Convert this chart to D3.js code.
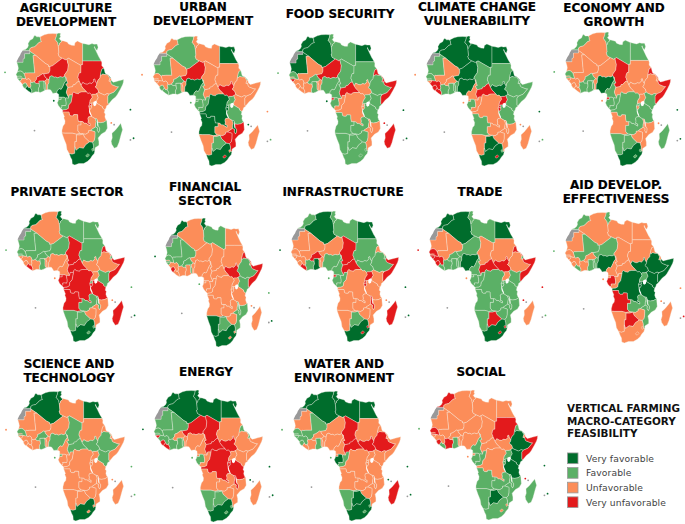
<!DOCTYPE html>
<html>
<head>
<meta charset="utf-8">
<script src="https://cdn.jsdelivr.net/npm/d3@7"></script>
<style>
  body { margin: 0; background: #fff; }
  svg { display: block; }
  .title { font: bold 12px "DejaVu Sans", sans-serif; fill: #000; stroke: #000; stroke-width: 0.2; text-anchor: middle; }
  .legend-title { font: bold 10.4px "DejaVu Sans", sans-serif; fill: #111; }
  .legend-label { font: 9.2px "DejaVu Sans", sans-serif; fill: #444; letter-spacing: 0.1px; }
  .map { filter: blur(0.3px); }
</style>
</head>
<body>
<svg id="maps"></svg>
<script>
const countries = [
  "MAR", "DZA", "TUN", "LBY", "EGY",
  "MRT", "MLI", "NER", "TCD", "SDN",
  "SSD", "ERI", "ETH", "DJI", "SOM",
  "SEN", "GMB", "GNB", "GIN", "SLE", "LBR", "CIV", "BFA", "GHA", "TGO", "BEN", "NGA",
  "CMR", "CAF", "GNQ", "GAB", "COG", "COD",
  "UGA", "KEN", "RWA", "BDI", "TZA",
  "AGO", "ZMB", "MWI", "MOZ", "ZWE", "BWA", "NAM", "ZAF", "LSO", "SWZ", "MDG",
  "CPV", "STP", "COM", "SYC", "MUS"
];

// 1 very favorable, 2 favorable, 3 unfavorable, 4 very unfavorable (same order as countries)
const agriculture = [2,3,2,3,2, 2,3,4,3,4, 4,1,3,3,2, 2,2,2,3,2,1,2,4,2,2,3,2, 1,3,2,2,2,4, 3,3,4,3,3, 3,3,2,2,3,3,3,1,2,2,2, 2,1,3,1,1];
const urban       = [3,2,3,3,1, 2,3,4,3,3, 4,2,3,3,3, 3,3,3,3,2,2,2,2,2,3,3,1, 2,3,2,2,2,1, 2,3,1,1,2, 1,3,1,4,4,2,3,1,4,3,3, 3,2,1,3,2];
const food        = [1,1,2,2,1, 1,3,4,2,2, 3,4,2,4,4, 2,3,4,3,3,3,3,2,2,3,3,2, 2,4,4,2,3,3, 2,2,3,3,2, 2,2,3,3,2,2,2,2,2,2,4, 2,1,4,1,1];
const climate     = [1,1,1,1,1, 2,3,1,2,2, 1,1,2,2,2, 2,2,3,4,4,4,2,3,2,2,2,1, 3,4,3,2,3,3, 4,2,4,4,2, 2,3,3,3,3,1,3,1,4,2,3, 3,3,3,1,2];
const economy     = [2,3,2,2,2, 3,3,3,4,3, 3,4,3,3,4, 2,3,3,3,3,3,2,2,2,2,3,1, 2,3,4,2,2,2, 3,2,2,3,2, 3,2,3,3,3,2,2,1,2,2,2, 2,3,3,1,1];
const privateSector = [1,3,1,2,2, 2,2,2,4,2, 3,4,3,2,4, 2,2,3,3,3,4,3,2,2,3,3,3, 3,4,4,4,4,4, 3,2,2,4,4, 4,2,2,3,3,2,2,1,2,2,4, 2,3,3,2,1];
const financial   = [1,3,1,2,3, 2,2,3,3,3, 4,4,2,3,4, 2,3,2,3,4,3,3,2,3,2,3,3, 3,3,3,3,3,3, 3,2,3,3,3, 3,3,2,2,3,2,1,1,3,3,3, 1,2,3,2,1];
const infrastructure = [2,1,2,2,1, 3,3,3,4,2, 2,3,2,2,4, 3,3,3,3,3,4,2,4,1,3,3,2, 2,4,4,2,2,3, 4,3,4,4,3, 3,3,4,3,3,2,3,1,4,4,4, 1,2,3,1,1];
const trade       = [1,1,2,2,1, 3,3,2,3,3, 4,4,3,2,4, 4,3,4,4,4,2,2,2,2,2,2,1, 2,4,2,2,2,2, 3,2,2,2,2, 2,2,2,2,2,4,2,1,4,4,3, 4,3,4,4,2];
const aid         = [2,3,2,3,3, 3,2,2,3,3, 1,3,1,3,1, 3,3,3,3,3,2,3,3,2,2,2,1, 3,3,3,4,3,1, 2,1,1,1,1, 4,2,2,2,3,4,3,3,3,3,3, 2,3,3,3,4];
const science     = [1,1,1,3,1, 3,3,3,2,3, 2,3,2,3,3, 2,3,3,3,3,3,3,2,2,3,3,2, 3,2,2,3,3,3, 3,2,3,3,3, 3,3,3,3,3,3,3,1,3,3,3, 3,2,3,2,2];
const energy      = [1,1,1,1,1, 2,2,4,4,3, 4,2,3,2,3, 2,2,4,2,4,4,2,3,2,2,3,3, 3,4,3,2,3,4, 3,3,4,4,4, 3,3,4,3,3,2,2,1,2,2,3, 1,2,1,1,1];
const water       = [1,1,1,1,1, 3,2,3,4,3, 4,3,4,3,3, 2,2,2,2,2,3,3,3,2,3,3,3, 3,4,3,1,2,3, 3,3,3,3,3, 3,3,3,3,3,1,2,1,2,2,4, 2,2,1,1,1];
const social      = [4,3,3,3,3, 3,3,3,3,4, 3,2,1,3,4, 4,3,3,3,4,2,4,3,2,3,3,3, 2,3,3,2,2,3, 2,1,2,2,1, 2,2,2,2,2,1,2,2,3,3,2, 2,3,4,1,1];

const panelTitles = [
  ["AGRICULTURE", "DEVELOPMENT"], ["URBAN", "DEVELOPMENT"], ["FOOD SECURITY"],
  ["CLIMATE CHANGE", "VULNERABILITY"], ["ECONOMY AND", "GROWTH"],
  ["PRIVATE SECTOR"], ["FINANCIAL", "SECTOR"], ["INFRASTRUCTURE"], ["TRADE"],
  ["AID DEVELOP.", "EFFECTIVENESS"],
  ["SCIENCE AND", "TECHNOLOGY"], ["ENERGY"], ["WATER AND", "ENVIRONMENT"], ["SOCIAL"]
];
const panelValues = [
  agriculture, urban, food, climate, economy,
  privateSector, financial, infrastructure, trade, aid,
  science, energy, water, social
];

const legendTitle = ["VERTICAL FARMING", "MACRO-CATEGORY", "FEASIBILITY"];
const legendLabels = ["Very favorable", "Favorable", "Unfavorable", "Very unfavorable"];

// lon/lat outlines, rough but with shared borders
const shapes = {
  ESH: [[-8.7,27.7],[-8.7,26],[-12,26],[-12,23.5],[-13,23],[-13,21.3],[-17,21.3],[-17,21.9],[-16,23.7],[-14.9,25.1],[-14.4,26.2],[-13.2,27.7]],
  MAR: [[-8.7,27.7],[-13.2,27.7],[-12.9,28],[-11.5,28.3],[-10.2,29.3],[-9.6,30.4],[-9.8,31.5],[-8.6,33.3],[-6.8,34.1],[-5.9,35.8],[-5.3,35.9],[-4.3,35.2],[-2.9,35.2],[-2.2,35.1],[-1.8,34.5],[-1.7,33.3],[-1.2,32.6],[-2.9,32.1],[-3.7,31.3],[-5.6,29.8],[-7.6,29.4],[-8.7,28.7]],
  DZA: [[-8.7,27.7],[-8.7,28.7],[-7.6,29.4],[-5.6,29.8],[-3.7,31.3],[-2.9,32.1],[-1.2,32.6],[-1.7,33.3],[-1.8,34.5],[-2.2,35.1],[-1,35.7],[0.5,36.3],[3,36.9],[6,37],[8.6,36.9],[8.3,35.5],[7.5,33.8],[9.05,32.1],[9.5,30.2],[9.9,26.5],[9.4,26.2],[10,24.5],[12,23.5],[5.8,19.4],[4.2,19],[3.2,19],[3.2,19.8],[1.2,20.7],[-4.8,25],[-8.7,27.3]],
  TUN: [[8.6,36.9],[9.9,37.3],[11,37],[10.6,36],[11,35.2],[10.1,34.3],[11.1,33.2],[11.5,33.1],[11.5,32.4],[10.3,31.7],[10.2,30.8],[9.5,30.2],[9.05,32.1],[7.5,33.8],[8.3,35.5]],
  LBY: [[11.5,33.1],[13,32.9],[15.3,32.3],[16,31.3],[18,30.6],[19.8,30.5],[20.1,32],[21.7,32.9],[23.2,32.3],[25,31.6],[25,22],[25,20],[24,20],[24,19.5],[16,23.5],[15,23],[14.2,22.6],[12,23.5],[10,24.5],[9.4,26.2],[9.9,26.5],[9.5,30.2],[10.2,30.8],[10.3,31.7],[11.5,32.4]],
  EGY: [[25,31.6],[27,31.3],[29,30.9],[31,31.5],[32.3,31.2],[34.2,31.3],[34.9,29.5],[34.2,27.8],[33.2,28.5],[32.6,29.9],[32.4,29.6],[33.8,27],[35.5,24],[35.6,23.9],[36.9,22],[31.4,22],[25,22]],
  MRT: [[-17,21.3],[-13,21.3],[-13,23],[-12,23.5],[-12,26],[-8.7,26],[-8.7,27.3],[-4.8,25],[-6.6,25],[-5.5,15.5],[-9.3,15.5],[-10.7,15.4],[-11.7,15.5],[-12.2,14.8],[-13.5,16.2],[-14.9,16.6],[-16.5,16.1],[-16,18],[-16.3,19.4]],
  MLI: [[-4.8,25],[1.2,20.7],[3.2,19.8],[3.2,19],[4.2,19],[4.2,16.9],[3.5,15.4],[0.2,14.9],[-0.5,15.1],[-2,14.2],[-3,13.6],[-4.3,13.2],[-4.4,12],[-5.4,11],[-5.5,10.4],[-6.2,10.5],[-7,10.2],[-8,10.3],[-8.3,11.5],[-9.3,12.4],[-10.7,11.9],[-11.4,12.4],[-12.2,14.8],[-11.7,15.5],[-10.7,15.4],[-9.3,15.5],[-5.5,15.5],[-6.6,25]],
  NER: [[3.5,15.4],[4.2,16.9],[4.2,19],[5.8,19.4],[12,23.5],[14.2,22.6],[15,23],[15.5,21],[15.9,19.9],[15.5,16.9],[13.5,14.5],[13.6,13.7],[12.3,13.1],[10.7,13.4],[9,12.8],[7.8,13.3],[6.8,13.1],[5.4,13.9],[4.1,13.5],[3.6,11.7],[2.4,12.2],[1,13.3],[0.3,14.4],[0.2,14.9]],
  TCD: [[15,23],[16,23.5],[24,19.5],[23.9,15.6],[22.9,15.5],[22.3,14.3],[22,12.9],[22.4,12.3],[22.9,10.9],[21.7,10.6],[20,9],[19,9],[18.6,8],[15.5,7.5],[14.2,9.5],[15.5,9.9],[14.9,11],[14.5,12.9],[14.1,13],[13.6,13.7],[13.5,14.5],[15.5,16.9],[15.9,19.9],[15.5,21]],
  SDN: [[25,22],[31.4,22],[36.9,22],[37.3,21],[37.2,19.5],[38.6,18],[37.4,17.7],[36.9,16.5],[36.4,14.4],[36.1,12.7],[35,11.7],[34.3,10.6],[34.1,9.5],[33.1,10.8],[32.7,12.2],[32,11.9],[32.3,11],[30.8,9.7],[29.6,10],[28,9.3],[26.7,9.5],[25.1,10.3],[24,8.7],[22.9,10.9],[22.4,12.3],[22,12.9],[22.3,14.3],[22.9,15.5],[23.9,15.6],[24,19.5],[24,20],[25,20]],
  SSD: [[34.1,9.5],[33.1,10.8],[32.7,12.2],[32,11.9],[32.3,11],[30.8,9.7],[29.6,10],[28,9.3],[26.7,9.5],[25.1,10.3],[24,8.7],[25.2,7.1],[26.4,6.2],[27.4,5.1],[28.4,4.3],[29.5,4.5],[30.8,3.5],[31.3,3.8],[33,3.8],[34,4.2],[35.3,5],[34.7,6.6],[33,7.9],[33.7,8.4]],
  ERI: [[38.6,18],[39.3,15.6],[39.7,15.1],[41.2,14.5],[43.1,12.7],[42.4,12.5],[41,14.5],[40,14.5],[39,14.6],[37.9,14.9],[37,14.3],[36.4,14.4],[36.9,16.5],[37.4,17.7]],
  ETH: [[36.4,14.4],[37,14.3],[37.9,14.9],[39,14.6],[40,14.5],[41,14.5],[42.4,12.5],[41.8,11],[42.9,11],[43.3,9.5],[44,9],[46.9,8],[48,8],[45,5],[41.9,3.9],[40.7,4.2],[39.9,3.9],[39,3.4],[36,4.5],[35.3,5],[34.7,6.6],[33,7.9],[33.7,8.4],[34.1,9.5],[34.3,10.6],[35,11.7],[36.1,12.7]],
  DJI: [[43.1,12.7],[43.3,11.5],[42.9,11],[41.8,11],[42.4,12.5]],
  SOM: [[42.9,11],[43.3,11.5],[44.5,10.4],[46,10.7],[48,11.2],[50,11.6],[51.2,11.9],[51,10.4],[50.5,9],[49,6.5],[47,3.5],[46,2.3],[44,1],[42,-1.1],[41.6,-1.7],[41,-0.9],[41,2.8],[41.9,3.9],[45,5],[48,8],[46.9,8],[44,9],[43.3,9.5]],
  SEN: [[-16.5,16.1],[-14.9,16.6],[-13.5,16.2],[-12.2,14.8],[-11.4,12.4],[-12.3,12.3],[-13.7,12.7],[-16.7,12.4],[-16.8,13.2],[-16.8,13.6],[-17.5,14.7]],
  GMB: [[-16.8,13.6],[-15,13.8],[-13.9,13.5],[-15,13.3],[-16.8,13.2]],
  GNB: [[-16.7,12.4],[-13.7,12.7],[-13.7,12],[-15,10.9],[-15.9,11.8]],
  GIN: [[-15,10.9],[-13.7,9.6],[-13.3,9],[-12.4,9.9],[-11.2,10],[-10.7,9.2],[-10.3,8.5],[-9.4,7.4],[-8.4,7.6],[-7.9,8.5],[-8.3,9.8],[-8,10.3],[-8.3,11.5],[-9.3,12.4],[-10.7,11.9],[-11.4,12.4],[-12.3,12.3],[-13.7,12.7],[-13.7,12]],
  SLE: [[-13.3,8.5],[-12.5,7.4],[-11.5,6.9],[-10.3,8.5],[-10.7,9.2],[-11.2,10],[-12.4,9.9],[-13.3,9]],
  LBR: [[-11.5,6.9],[-9.5,5.5],[-7.5,4.4],[-7.4,5.9],[-8.4,7.6],[-9.4,7.4],[-10.3,8.5]],
  CIV: [[-7.5,4.4],[-5,5.2],[-3.1,5.1],[-3.2,6.8],[-2.5,8.2],[-2.7,9.5],[-3.5,9.9],[-4.7,9.8],[-5.5,10.4],[-6.2,10.5],[-7,10.2],[-8,10.3],[-8.3,9.8],[-7.9,8.5],[-8.4,7.6],[-7.4,5.9]],
  BFA: [[-5.5,10.4],[-5.4,11],[-4.4,12],[-4.3,13.2],[-3,13.6],[-2,14.2],[-0.5,15.1],[0.2,14.9],[0.3,14.4],[1,13.3],[2.4,12.2],[0.9,11],[-0.1,11.1],[-2.9,11],[-2.7,9.5],[-3.5,9.9],[-4.7,9.8]],
  GHA: [[-3.1,5.1],[-2,4.8],[-0.5,5.3],[1.2,6.1],[0.5,6.9],[0.4,8],[0.4,10.2],[-0.1,11.1],[-2.9,11],[-2.7,9.5],[-2.5,8.2],[-3.2,6.8]],
  TGO: [[1.2,6.1],[1.6,6.2],[1.6,9],[0.9,11],[-0.1,11.1],[0.4,10.2],[0.4,8],[0.5,6.9]],
  BEN: [[1.6,6.2],[2.7,6.4],[2.8,9],[3.6,10.3],[3.6,11.7],[2.4,12.2],[0.9,11],[1.6,9]],
  NGA: [[2.7,6.4],[4.4,6.3],[5,5.7],[6,4.3],[7.5,4.5],[8.5,4.5],[8.8,5.7],[10,6.9],[11.2,6.5],[11.8,7],[12.8,8.8],[13.3,9.9],[14.6,11.5],[14.1,13],[13.6,13.7],[12.3,13.1],[10.7,13.4],[9,12.8],[7.8,13.3],[6.8,13.1],[5.4,13.9],[4.1,13.5],[3.6,11.7],[3.6,10.3],[2.8,9]],
  CMR: [[8.5,4.5],[9.7,3.9],[9.8,2.2],[11.3,2.2],[13.3,2.2],[14.1,1.4],[14.2,1.9],[16,1.7],[16.1,2],[15,4],[14.6,5],[15.5,7.5],[14.2,9.5],[15.5,9.9],[14.9,11],[14.5,12.9],[14.1,13],[14.6,11.5],[13.3,9.9],[12.8,8.8],[11.8,7],[11.2,6.5],[10,6.9],[8.8,5.7]],
  CAF: [[14.6,5],[15.5,7.5],[18.6,8],[19,9],[20,9],[21.7,10.6],[22.9,10.9],[24,8.7],[25.2,7.1],[26.4,6.2],[27.4,5.1],[24.4,5.1],[22.9,4.8],[22.4,4.1],[20.5,4.4],[19.4,5.1],[18.6,4.3],[18.6,3.5],[16.5,3.5],[16.1,2],[15,4]],
  GNQ: [[9.6,1],[9.8,2.2],[11.3,2.2],[11.3,1]],
  GAB: [[9.6,1],[11.3,1],[11.3,2.2],[13.3,2.2],[14.1,1.4],[14.5,-0.5],[14.5,-1.7],[14.2,-2.4],[13,-2.3],[12.5,-2.3],[11.6,-2.4],[11.9,-3],[11.1,-3.9],[9.6,-2.4],[8.8,-0.8],[9.4,0.2]],
  COG: [[18.6,3.5],[17.7,-0.5],[16.2,-2],[15.9,-3.9],[14.4,-4.6],[13.1,-4.7],[12.3,-4.8],[11.1,-3.9],[11.9,-3],[11.6,-2.4],[12.5,-2.3],[13,-2.3],[14.2,-2.4],[14.5,-1.7],[14.5,-0.5],[14.1,1.4],[14.2,1.9],[16,1.7],[16.1,2],[16.5,3.5]],
  COD: [[12.3,-6],[13.2,-5.9],[16.3,-5.9],[16.6,-7.5],[17.5,-8],[19,-8],[19.4,-7.2],[21.8,-7.3],[21.9,-9.5],[22.3,-11],[24,-11],[25.3,-11.2],[25.9,-12],[27.2,-12],[28.5,-12.8],[29.8,-13.4],[29.8,-12.2],[28.4,-11.8],[28.7,-10.7],[28.4,-9.3],[28.9,-8.5],[30.7,-8.2],[29.6,-6.5],[29.4,-4.4],[29,-2.7],[29.2,-2],[29.6,-1.4],[29.6,-0.6],[29.9,0.6],[31.2,2.2],[30.8,3.5],[29.5,4.5],[28.4,4.3],[27.4,5.1],[24.4,5.1],[22.9,4.8],[22.4,4.1],[20.5,4.4],[19.4,5.1],[18.6,4.3],[18.6,3.5],[17.7,-0.5],[16.2,-2],[15.9,-3.9],[14.4,-4.6],[13.1,-4.7],[12.3,-4.8]],
  UGA: [[30.8,3.5],[31.3,3.8],[33,3.8],[34,4.2],[35,1.9],[34.4,1.1],[34,0.3],[33.9,-1],[30.5,-1],[29.6,-1.4],[29.6,-0.6],[29.9,0.6],[31.2,2.2]],
  KEN: [[41.6,-1.7],[41,-0.9],[41,2.8],[41.9,3.9],[40.7,4.2],[39.9,3.9],[39,3.4],[36,4.5],[35.3,5],[34,4.2],[35,1.9],[34.4,1.1],[34,0.3],[33.9,-1],[37.7,-3],[37.7,-3.7],[39.2,-4.7],[40,-3.5],[40.3,-2.5]],
  RWA: [[30.5,-1],[30.9,-2.3],[30.5,-2.4],[29.9,-2.4],[29,-2.7],[29.2,-2],[29.6,-1.4]],
  BDI: [[30.5,-2.4],[30.8,-3.3],[30,-4.4],[29.4,-4.4],[29,-2.7],[29.9,-2.4]],
  TZA: [[33.9,-1],[37.7,-3],[37.7,-3.7],[39.2,-4.7],[38.8,-6.3],[39.5,-6.9],[39.2,-8.5],[39.8,-10],[40.4,-10.4],[38.5,-11.4],[36.5,-11.7],[34.7,-11.5],[34,-9.6],[33,-9.5],[31.2,-8.6],[30.7,-8.2],[29.6,-6.5],[29.4,-4.4],[30,-4.4],[30.8,-3.3],[30.5,-2.4],[30.9,-2.3],[30.5,-1]],
  AGO: [[12.3,-6],[13.2,-5.9],[16.3,-5.9],[16.6,-7.5],[17.5,-8],[19,-8],[19.4,-7.2],[21.8,-7.3],[21.9,-9.5],[22.3,-11],[24,-11],[24,-13],[22,-13],[22,-16.2],[23.4,-17.6],[21,-18],[18.5,-17.4],[14,-17.4],[11.8,-17.3],[11.8,-15.8],[12.5,-13.5],[13.6,-12.3],[13.8,-10.7],[13,-9],[13.4,-8.4]],
  ZMB: [[30.7,-8.2],[31.2,-8.6],[33,-9.5],[33.7,-11],[33.3,-12.5],[33.2,-14],[30.4,-15.6],[30.4,-16],[28.8,-16.1],[28.8,-17],[27,-18],[25.3,-17.8],[23.4,-17.6],[22,-16.2],[22,-13],[24,-13],[24,-11],[25.3,-11.2],[25.9,-12],[27.2,-12],[28.5,-12.8],[29.8,-13.4],[29.8,-12.2],[28.4,-11.8],[28.7,-10.7],[28.4,-9.3],[28.9,-8.5]],
  MWI: [[33,-9.5],[34,-9.6],[34.7,-11.5],[35,-13.4],[35.9,-14.7],[35.8,-16],[35.2,-17.1],[34.3,-15.8],[34.5,-14.6],[33.2,-14],[33.3,-12.5],[33.7,-11]],
  MOZ: [[40.4,-10.4],[40.8,-14.7],[39.5,-16.6],[37,-17.9],[34.9,-20],[35.4,-22],[35.4,-24],[33,-25.4],[32.9,-26.8],[32.1,-26.8],[32,-25.9],[31.9,-24.2],[31.3,-22.4],[32.4,-21.3],[32.8,-19.7],[32.9,-16.7],[30.4,-16],[30.4,-15.6],[33.2,-14],[34.5,-14.6],[34.3,-15.8],[35.2,-17.1],[35.8,-16],[35.9,-14.7],[35,-13.4],[34.7,-11.5],[36.5,-11.7],[38.5,-11.4]],
  ZWE: [[25.3,-17.8],[27,-18],[28.8,-17],[28.8,-16.1],[30.4,-16],[32.9,-16.7],[32.8,-19.7],[32.4,-21.3],[31.3,-22.4],[29.4,-22.2],[27.3,-20.5],[26.2,-19.6]],
  BWA: [[21,-18.3],[23.3,-18.3],[25.3,-17.8],[26.2,-19.6],[27.3,-20.5],[29.4,-22.2],[27,-23.7],[25.5,-25.7],[23,-25.3],[20.8,-26.8],[20,-24.8],[20,-22],[21,-22]],
  NAM: [[11.8,-17.3],[14,-17.4],[18.5,-17.4],[21,-18],[23.4,-17.6],[25.3,-17.8],[23.3,-18.3],[21,-18.3],[21,-22],[20,-22],[20,-28.4],[18.2,-28.9],[17.4,-28.7],[16.5,-28.6],[15,-26.4],[14.5,-23.5],[13.2,-20.8]],
  ZAF: [[16.5,-28.6],[17.4,-28.7],[18.2,-28.9],[20,-28.4],[20,-24.8],[20.8,-26.8],[23,-25.3],[25.5,-25.7],[27,-23.7],[29.4,-22.2],[31.3,-22.4],[31.9,-24.2],[32,-25.9],[32.1,-26.8],[32.9,-26.8],[32.4,-28.5],[31,-29.9],[30,-31.3],[28.2,-32.8],[25.7,-34],[22.6,-34],[20,-34.8],[18.4,-34.2],[18.2,-32],[17.3,-30.5]],
  LSO: [[27,-29.6],[28.5,-28.6],[29.4,-29.4],[28.3,-30.4],[27.4,-30.3]],
  SWZ: [[31,-25.8],[32,-25.9],[32.1,-26.8],[31.3,-27.3],[30.8,-26.4]],
  MDG: [[49.3,-12],[50.5,-15.5],[49.6,-18],[48.2,-22.5],[47,-25],[45.2,-25.6],[43.6,-23.5],[43.2,-21.8],[43.9,-20],[43.7,-17.5],[45.8,-15.8],[48,-13.5]]
};

const lakes = [
  [[32,-0.2],[33.5,0.3],[34.1,-0.5],[33.9,-1],[33.6,-2.2],[32.5,-2.7],[31.8,-2],[31.8,-1]],
  [[29.2,-3.4],[29.5,-4.8],[29.9,-5.8],[30.6,-7.2],[30.9,-8.4],[30.6,-8.3],[29.7,-6.8],[29.2,-5.6]],
  [[34.1,-9.7],[34.7,-11.5],[34.8,-13],[34.6,-14.2],[34.4,-13.5],[34.2,-11.8]]
];

const islands = {CPV: [-24.5, 15.8], STP: [6.6, 0.3], COM: [43.3, -11.8], SYC: [55.5, -4.6], MUS: [57.5, -20.2]};
const noDataShapes = ["ESH"];
const noDataIslands = [[-5.7, -16], [45.1, -12.8], [55.5, -21.1]];

const colors = d3.scaleOrdinal()
  .domain([1, 2, 3, 4])
  .range(["#006d2c", "#5bb066", "#fc8d59", "#e31a1c"]);
const noDataColor = "#999999";

// map box of each panel: x of lon -17.5 and 51.4, y of lat 37.3 and -34.8
const panelBoxes = [
  [16, 124, 33, 165], [153, 261, 36, 166], [289, 397, 34, 165], [426, 533, 36, 166], [565, 671, 32, 166],
  [17, 125, 211, 342], [165, 263, 218, 347], [291, 399, 211, 342], [429, 536, 211, 342], [565, 674, 212, 343],
  [17, 125, 391, 521], [154, 263, 390, 522], [293, 401, 391, 521], [430, 538, 390, 520]
];
const titleSpots = [
  [66, 11.5], [203, 10.5], [340, 18], [477, 11], [614, 12],
  [67, 196], [205, 190.5], [343, 195.5], [480, 195.5], [616, 188.5],
  [69, 367.5], [206, 375.5], [344, 367.5], [481, 375.5]
];

const chartSize = {width: 685, height: 524};

const drawPanel = (g, values, box) => {
  const x = d3.scaleLinear().domain([-17.5, 51.4]).range([box[0], box[1]]);
  const y = d3.scaleLinear().domain([37.3, -34.8]).range([box[2], box[3]]);
  const project = d3.geoTransform({
    point(lon, lat) { this.stream.point(x(lon), y(lat)); }
  });
  const path = d3.geoPath(project).pointRadius(0.9);
  const polygon = ring => ({type: "Polygon", coordinates: [[...ring, ring[0]]]});

  const valueOf = {};
  countries.forEach((c, i) => { valueOf[c] = values[i]; });

  g.selectAll("path.nodata")
    .data(noDataShapes)
    .enter()
    .append("path")
    .attr("class", "nodata")
    .attr("d", c => path(polygon(shapes[c])))
    .attr("fill", noDataColor);

  g.selectAll("path.country")
    .data(countries.filter(c => shapes[c]))
    .enter()
    .append("path")
    .attr("class", "country")
    .attr("d", c => path(polygon(shapes[c])))
    .attr("fill", c => colors(valueOf[c]))
    .attr("stroke", "#f3f3ea")
    .attr("stroke-width", 0.35)
    .attr("stroke-linejoin", "round");

  g.selectAll("path.lake")
    .data(lakes)
    .enter()
    .append("path")
    .attr("class", "lake")
    .attr("d", l => path(polygon(l)))
    .attr("fill", "#fff");

  g.selectAll("path.island")
    .data(Object.keys(islands))
    .enter()
    .append("path")
    .attr("class", "island")
    .attr("d", c => path({type: "Point", coordinates: islands[c]}))
    .attr("fill", c => colors(valueOf[c]));

  g.selectAll("path.island-nodata")
    .data(noDataIslands)
    .enter()
    .append("path")
    .attr("class", "island-nodata")
    .attr("d", p => path({type: "Point", coordinates: p}))
    .attr("fill", noDataColor);
};

const drawLegend = (svg) => {
  const legend = svg.append("g");

  legend.selectAll("text.legend-title")
    .data(legendTitle)
    .enter()
    .append("text")
    .attr("class", "legend-title")
    .attr("x", 567)
    .attr("y", (d, i) => 412 + i * 12.5)
    .text(d => d);

  const rows = d3.scaleBand()
    .domain(legendLabels)
    .range([449, 511.5])
    .padding(0.27);

  legend.selectAll("rect")
    .data(legendLabels)
    .enter()
    .append("rect")
    .attr("x", 567.5)
    .attr("y", d => rows(d))
    .attr("width", 10.5)
    .attr("height", rows.bandwidth())
    .attr("fill", (d, i) => colors(i + 1))
    .attr("stroke", "#999")
    .attr("stroke-width", 0.8);

  legend.selectAll("text.legend-label")
    .data(legendLabels)
    .enter()
    .append("text")
    .attr("class", "legend-label")
    .attr("x", 586)
    .attr("y", d => rows(d) + rows.bandwidth() / 2 + 3.3)
    .text(d => d);
};

const main = () => {
  const svg = d3.select("#maps")
    .attr("width", chartSize.width)
    .attr("height", chartSize.height);

  panelValues.forEach((values, i) => {
    const g = svg.append("g");
    drawPanel(g.append("g").attr("class", "map"), values, panelBoxes[i]);
    g.selectAll("text.title")
      .data(panelTitles[i])
      .enter()
      .append("text")
      .attr("class", "title")
      .attr("x", titleSpots[i][0])
      .attr("y", (d, k) => titleSpots[i][1] + k * 14)
      .text(d => d);
  });

  drawLegend(svg);
};

window.onload = main;
</script>
</body>
</html>
